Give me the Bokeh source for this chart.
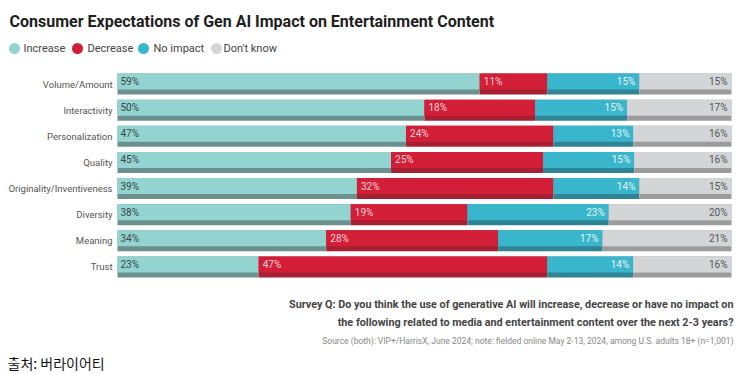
import numpy as np
from bokeh.plotting import figure
from bokeh.models import ColumnDataSource, Range1d
from bokeh.core.properties import value
from bokeh.embed import file_html
from bokeh.resources import INLINE

# ---------------- data ----------------
categories = ["Volume/Amount", "Interactivity", "Personalization", "Quality",
              "Originality/Inventiveness", "Diversity", "Meaning", "Trust"]
increase = [59, 50, 47, 45, 39, 38, 34, 23]
decrease = [11, 18, 24, 25, 32, 19, 28, 47]
no_impact = [15, 15, 13, 15, 14, 23, 17, 14]
dont_know = [15, 17, 16, 16, 15, 20, 21, 16]
series_names = ["Increase", "Decrease", "No impact", "Don't know"]

title_text = "Consumer Expectations of Gen AI Impact on Entertainment Content"
survey_q1 = "Survey Q: Do you think the use of generative AI will increase, decrease or have no impact on"
survey_q2 = "the following related to media and entertainment content over the next 2-3 years?"
source_text = "Source (both): VIP+/HarrisX, June 2024; note: fielded online May 2-13, 2024, among U.S. adults 18+ (n=1,001)"
credit_text = "출처: 버라이어티"

# ---------------- style / layout ----------------
FONT = "Roboto"
light = ["#93d4d1", "#d31e37", "#3ab6cc", "#d4d5d7"]
dark = ["#6c908d", "#a61f33", "#2f8496", "#9c9c9c"]
label_colors = ["#3a4747", "#f6d3d8", "#e4f5f8", "#555555"]

W, H = 740, 374          # canvas fills the window
PX0, PX100 = 117, 731    # x pixel of 0% and 100%
ROW0, STEP = 83.5, 26.14 # y pixel of first row centre, row spacing
BAR_H, LIGHT_H, LIGHT_OFF = 0.803, 0.612, 0.0956


def xs(px):
    return (px - PX0) * 100.0 / (PX100 - PX0)


def ys(py):
    return (py - ROW0) / STEP


p = figure(width=W, height=H,
           x_range=Range1d(xs(0), xs(W)), y_range=Range1d(ys(H), ys(0)),
           output_backend="svg", toolbar_location=None,
           x_axis_location=None, y_axis_location=None,
           min_border=0)
p.grid.visible = False
p.outline_line_color = None
p.background_fill_color = "white"
p.border_fill_color = "white"

series = [increase, decrease, no_impact, dont_know]
totals = np.sum(np.array(series, dtype=float), axis=0)
ypos = np.arange(len(categories), dtype=float)
cum = np.zeros(len(categories))

for i, vals in enumerate(series):
    v = np.array(vals, dtype=float) / totals * 100
    left = cum.copy()
    right = cum + v
    cum = right
    src = ColumnDataSource(dict(y=ypos, yl=ypos - LIGHT_OFF, left=left, right=right,
                                lab=[f"{x}%" for x in vals]))
    p.hbar(y="y", left="left", right="right", height=BAR_H, source=src,
           fill_color=dark[i], line_color=None)
    p.hbar(y="yl", left="left", right="right", height=LIGHT_H, source=src,
           fill_color=light[i], line_color=None)
    if i < 2:
        p.text(x="left", y="yl", text="lab", source=src,
               x_offset=3 if i == 0 else 4, text_align="left",
               text_baseline="middle", text_font=value(FONT),
               text_font_size="10px", text_color=label_colors[i])
    else:
        p.text(x="right", y="yl", text="lab", source=src, x_offset=-4,
               text_align="right", text_baseline="middle", text_font=value(FONT),
               text_font_size="10px", text_color=label_colors[i])

# category labels
cat_src = ColumnDataSource(dict(y=ypos, name=categories))
p.text(x=0, y="y", text="name", source=cat_src, x_offset=-5, text_align="right",
       text_baseline="middle", text_font=value(FONT), text_font_size="9.5px",
       text_color="#555555")

# legend
leg_cx = [xs(14), xs(77), xs(143), xs(216)]
leg_tx = [xs(23), xs(87), xs(153), xs(223)]
leg_src = ColumnDataSource(dict(cx=leg_cx, tx=leg_tx, y=[ys(48)] * 4,
                                name=series_names, color=light))
p.scatter(x="cx", y="y", source=leg_src, marker="circle", size=11,
          fill_color="color", line_color=None)
p.text(x="tx", y="y", text="name", source=leg_src, text_align="left",
       text_baseline="middle", text_font=value(FONT), text_font_size="11px",
       text_color="#444444")

# title and notes
p.text(x=[xs(9)], y=[ys(21)], text=[title_text], text_align="left",
       text_baseline="alphabetic", text_font=value(FONT), text_font_size="16px",
       text_font_style="bold", text_color="#1e1e1e")
p.text(x=[xs(733)] * 2, y=[ys(304), ys(322)], text=[survey_q1, survey_q2],
       text_align="right", text_baseline="middle", text_font=value(FONT),
       text_font_size="10.8px", text_font_style="bold", text_color="#444444")
p.text(x=[xs(733)], y=[ys(340)], text=[source_text], text_align="right",
       text_baseline="middle", text_font=value(FONT), text_font_size="8.5px",
       text_color="#888888")
p.text(x=[xs(7)], y=[ys(362)], text=[credit_text], text_align="left",
       text_baseline="middle", text_font=value("Noto Sans CJK KR"),
       text_font_size="14px", text_color="#111111")

open("out.html", "w").write(file_html(p, INLINE))
